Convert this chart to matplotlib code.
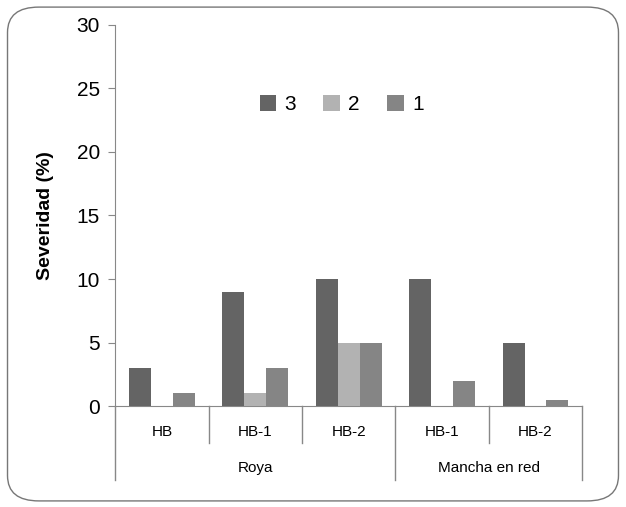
import numpy as np
import matplotlib.pyplot as plt
from matplotlib.patches import FancyBboxPatch
from matplotlib import font_manager

names = {f.name for f in font_manager.fontManager.ttflist}
font = 'Liberation Sans Narrow' if 'Liberation Sans Narrow' in names else 'Liberation Sans'
plt.rcParams['font.family'] = [font, 'DejaVu Sans']

# data
groups = ['Roya', 'Mancha en red']
subcats = ['HB', 'HB-1', 'HB-2', 'HB-1', 'HB-2']
group_sizes = [3, 2]
s3 = [3, 9, 10, 10, 5]
s2 = [0, 1, 5, 0, 0]
s1 = [1, 3, 5, 2, 0.5]
series = [('3', s3, '#646464'), ('2', s2, '#b2b2b2'), ('1', s1, '#858585')]

fig = plt.figure(figsize=(6.26, 5.07), dpi=100)
ax = fig.add_axes([0.184, 0.199, 0.746, 0.752])

x = np.arange(len(subcats))
w = 0.235
for i, (lab, vals, col) in enumerate(series):
    ax.bar(x + (i - 1) * w, vals, w, color=col, label=lab, zorder=3)

ax.set_xlim(-0.5, len(subcats) - 0.5)
ax.set_ylim(0, 30)
ax.set_yticks(range(0, 31, 5))
ax.tick_params(axis='y', labelsize=15, length=5, color='#888888', pad=6)
ax.set_xticks([])
for sp in ['top', 'right']:
    ax.spines[sp].set_visible(False)
ax.spines['left'].set_color('#888888')
ax.spines['bottom'].set_color('#888888')
ax.set_ylabel('Severidad (%)', fontsize=14, fontweight='bold', labelpad=16)

# hierarchical category axis
tr = ax.get_xaxis_transform()
line_kw = dict(color='#888888', lw=1, transform=tr, clip_on=False)
for xi, lab in zip(x, subcats):
    ax.text(xi, -0.068, lab, ha='center', va='center', fontsize=11, transform=tr)
bounds = np.cumsum([0] + group_sizes) - 0.5
for b in np.arange(-0.5, len(subcats)):
    outer = b in bounds
    ax.plot([b, b], [0, -0.195 if outer else -0.097], **line_kw)
for gi, g in enumerate(groups):
    ax.text((bounds[gi] + bounds[gi + 1]) / 2, -0.163, g, ha='center', va='center',
            fontsize=11, transform=tr)

ax.legend(loc='upper center', bbox_to_anchor=(0.485, 0.865), ncol=3, frameon=False,
          fontsize=15, handlelength=0.8, handleheight=0.8, columnspacing=1.3,
          handletextpad=0.4)

fig.patches.append(FancyBboxPatch((0.012, 0.012), 0.976, 0.974,
                                  boxstyle='round,pad=0,rounding_size=0.05',
                                  transform=fig.transFigure, fill=False,
                                  edgecolor='#777777', lw=1))

fig.savefig('out.png', dpi=100)
